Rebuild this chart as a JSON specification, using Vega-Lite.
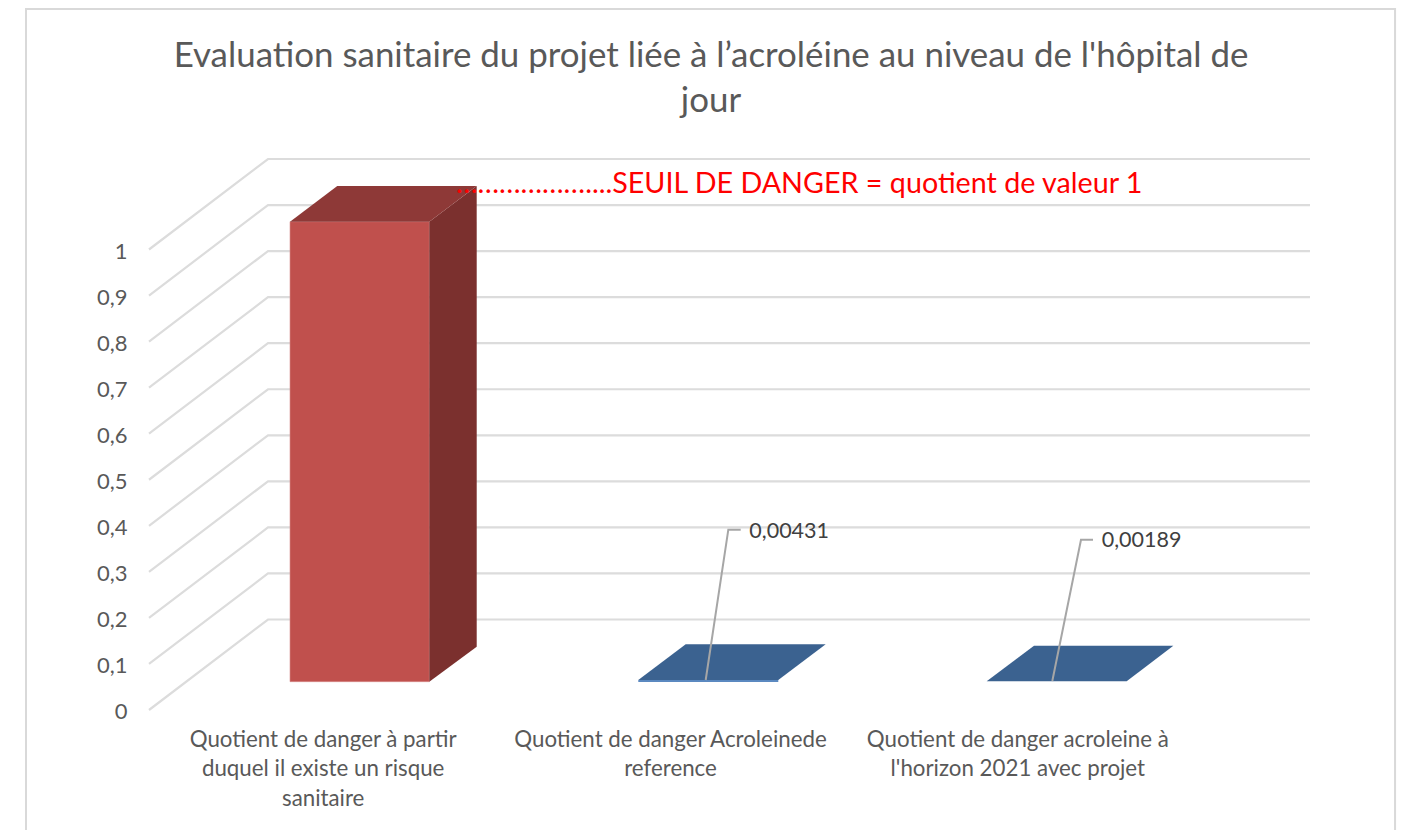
{
"$schema":"https://vega.github.io/schema/vega-lite/v6.json",
"width":1042,"height":460.5,
"autosize":"none",
"padding":{"left":149,"top":249.5,"right":217,"bottom":120},
"background":"white",
"view":{"stroke":null},
"config":{"font":"Lato","style":{"cell":{"stroke":null}}},
"title":{"text":["Evaluation sanitaire du projet liée à l’acroléine au niveau de l'hôpital de","jour"],"anchor":"middle","dx":41,"offset":-111,"fontSize":34.9,"limit":1300,"fontWeight":"normal","color":"#595959","font":"Lato","lineHeight":45},
"encoding":{
 "x":{"field":"x","type":"quantitative","scale":{"domain":[0,3],"nice":false,"zero":false},
  "axis":{"title":null,"values":[0.5,1.5,2.5],"grid":false,"domain":false,"ticks":false,"labelFontSize":22.3,"labelLimit":400,"labelColor":"#595959","labelPadding":18,"labelOverlap":false,"labelBound":false,"labelFlush":false,"labelLineHeight":29.5,"labelBaseline":"top",
   "labelExpr":"datum.value<1 ? ['Quotient de danger à partir','duquel il existe un risque','sanitaire'] : datum.value<2 ? ['Quotient de danger Acroleinede','reference'] : ['Quotient de danger acroleine à','l\\'horizon 2021 avec projet']"}},
 "y":{"field":"y","type":"quantitative","scale":{"domain":[0,1],"nice":false,"zero":false},
  "axis":{"title":null,"values":[0,0.1,0.2,0.3,0.4,0.5,0.6,0.7,0.8,0.9,1],"grid":false,"domain":false,"ticks":false,"labelFontSize":22,"labelColor":"#595959","labelPadding":22,"labelOffset":1.5,"labelBound":false,"labelFlush":false,"labelOverlap":false,
   "labelExpr":"replace(''+datum.value,'.',',')"}}
},
"layer":[
 {"data":{"values":[{"x":-0.3541,"x2":3.5875,"y":1.5223,"y2":-0.27}]},
  "mark":{"type":"rect","filled":false,"stroke":"#d9d9d9","strokeWidth":2},
  "encoding":{"x2":{"field":"x2"},"y2":{"field":"y2"}}},
 {"data":{"values":[
  {"level":0,"x":0,"y":0},{"level":0,"x":0.3426,"y":0.1965},{"level":0,"x":3.3426,"y":0.1965},
  {"level":0.1,"x":0,"y":0.1},{"level":0.1,"x":0.3426,"y":0.2965},{"level":0.1,"x":3.3426,"y":0.2965},
  {"level":0.2,"x":0,"y":0.2},{"level":0.2,"x":0.3426,"y":0.3965},{"level":0.2,"x":3.3426,"y":0.3965},
  {"level":0.3,"x":0,"y":0.3},{"level":0.3,"x":0.3426,"y":0.4965},{"level":0.3,"x":3.3426,"y":0.4965},
  {"level":0.4,"x":0,"y":0.4},{"level":0.4,"x":0.3426,"y":0.5965},{"level":0.4,"x":3.3426,"y":0.5965},
  {"level":0.5,"x":0,"y":0.5},{"level":0.5,"x":0.3426,"y":0.6965},{"level":0.5,"x":3.3426,"y":0.6965},
  {"level":0.6,"x":0,"y":0.6},{"level":0.6,"x":0.3426,"y":0.7965},{"level":0.6,"x":3.3426,"y":0.7965},
  {"level":0.7,"x":0,"y":0.7},{"level":0.7,"x":0.3426,"y":0.8965},{"level":0.7,"x":3.3426,"y":0.8965},
  {"level":0.8,"x":0,"y":0.8},{"level":0.8,"x":0.3426,"y":0.9965},{"level":0.8,"x":3.3426,"y":0.9965},
  {"level":0.9,"x":0,"y":0.9},{"level":0.9,"x":0.3426,"y":1.0965},{"level":0.9,"x":3.3426,"y":1.0965},
  {"level":1,"x":0,"y":1},{"level":1,"x":0.3426,"y":1.1965},{"level":1,"x":3.3426,"y":1.1965}
  ]},
  "mark":{"type":"line","stroke":"#dcdcdc","strokeWidth":2.2},
  "encoding":{"detail":{"field":"level"}}},
 {"data":{"values":[{"x":0.406,"x2":0.807,"y":0.0615,"y2":1.0604}]},
  "mark":{"type":"rect","fill":"#c0504d","stroke":"#d58a88","strokeWidth":0.6},
  "encoding":{"x2":{"field":"x2"},"y2":{"field":"y2"}}},
 {"data":{"values":[{"x":0.807,"y":0.0615,"y2":1.0604},{"x":0.9435,"y":0.1375,"y2":1.1379}]},
  "mark":{"type":"area","orient":"vertical","fill":"#7b302e"},
  "encoding":{"y2":{"field":"y2"}}},
 {"data":{"values":[{"y":1.0604,"x":0.406,"x2":0.807},{"y":1.1379,"x":0.542,"x2":0.9435}]},
  "mark":{"type":"area","orient":"horizontal","fill":"#8e3937"},
  "encoding":{"x2":{"field":"x2"}}},
 {"data":{"values":[{"y":0.0651,"x":1.4087,"x2":1.8118},{"y":0.1427,"x":1.5452,"x2":1.9483}]},
  "mark":{"type":"area","orient":"horizontal","fill":"#3b6290"},
  "encoding":{"x2":{"field":"x2"}}},
 {"data":{"values":[{"x":1.4087,"x2":1.8118,"y":0.0608,"y2":0.0651}]},
  "mark":{"type":"rect","fill":"#5b89c0"},
  "encoding":{"x2":{"field":"x2"},"y2":{"field":"y2"}}},
 {"data":{"values":[{"y":0.0625,"x":2.4118,"x2":2.8149},{"y":0.1396,"x":2.548,"x2":2.9491}]},
  "mark":{"type":"area","orient":"horizontal","fill":"#3b6290"},
  "encoding":{"x2":{"field":"x2"}}},
 {"data":{"values":[
  {"leader":"a","x":1.6028,"y":0.0651},{"leader":"a","x":1.6679,"y":0.3915},{"leader":"a","x":1.7036,"y":0.3915},
  {"leader":"b","x":2.6007,"y":0.063},{"leader":"b","x":2.6833,"y":0.3698},{"leader":"b","x":2.7179,"y":0.3698}
  ]},
  "mark":{"type":"line","stroke":"#a6a6a6","strokeWidth":2},
  "encoding":{"detail":{"field":"leader"}}},
 {"data":{"values":[{"x":1.7284,"y":0.3867,"label":"0,00431"},{"x":2.7429,"y":0.3672,"label":"0,00189"}]},
  "mark":{"type":"text","align":"left","baseline":"middle","fontSize":21.5,"color":"#404040"},
  "encoding":{"text":{"field":"label"}}},
 {"data":{"values":[{"x":0.884,"y":1.142,"label":"………………....SEUIL DE DANGER = quotient de valeur 1"}]},
  "mark":{"type":"text","align":"left","baseline":"middle","fontSize":28.7,"color":"#ff0000"},
  "encoding":{"text":{"field":"label"}}}
]
}
